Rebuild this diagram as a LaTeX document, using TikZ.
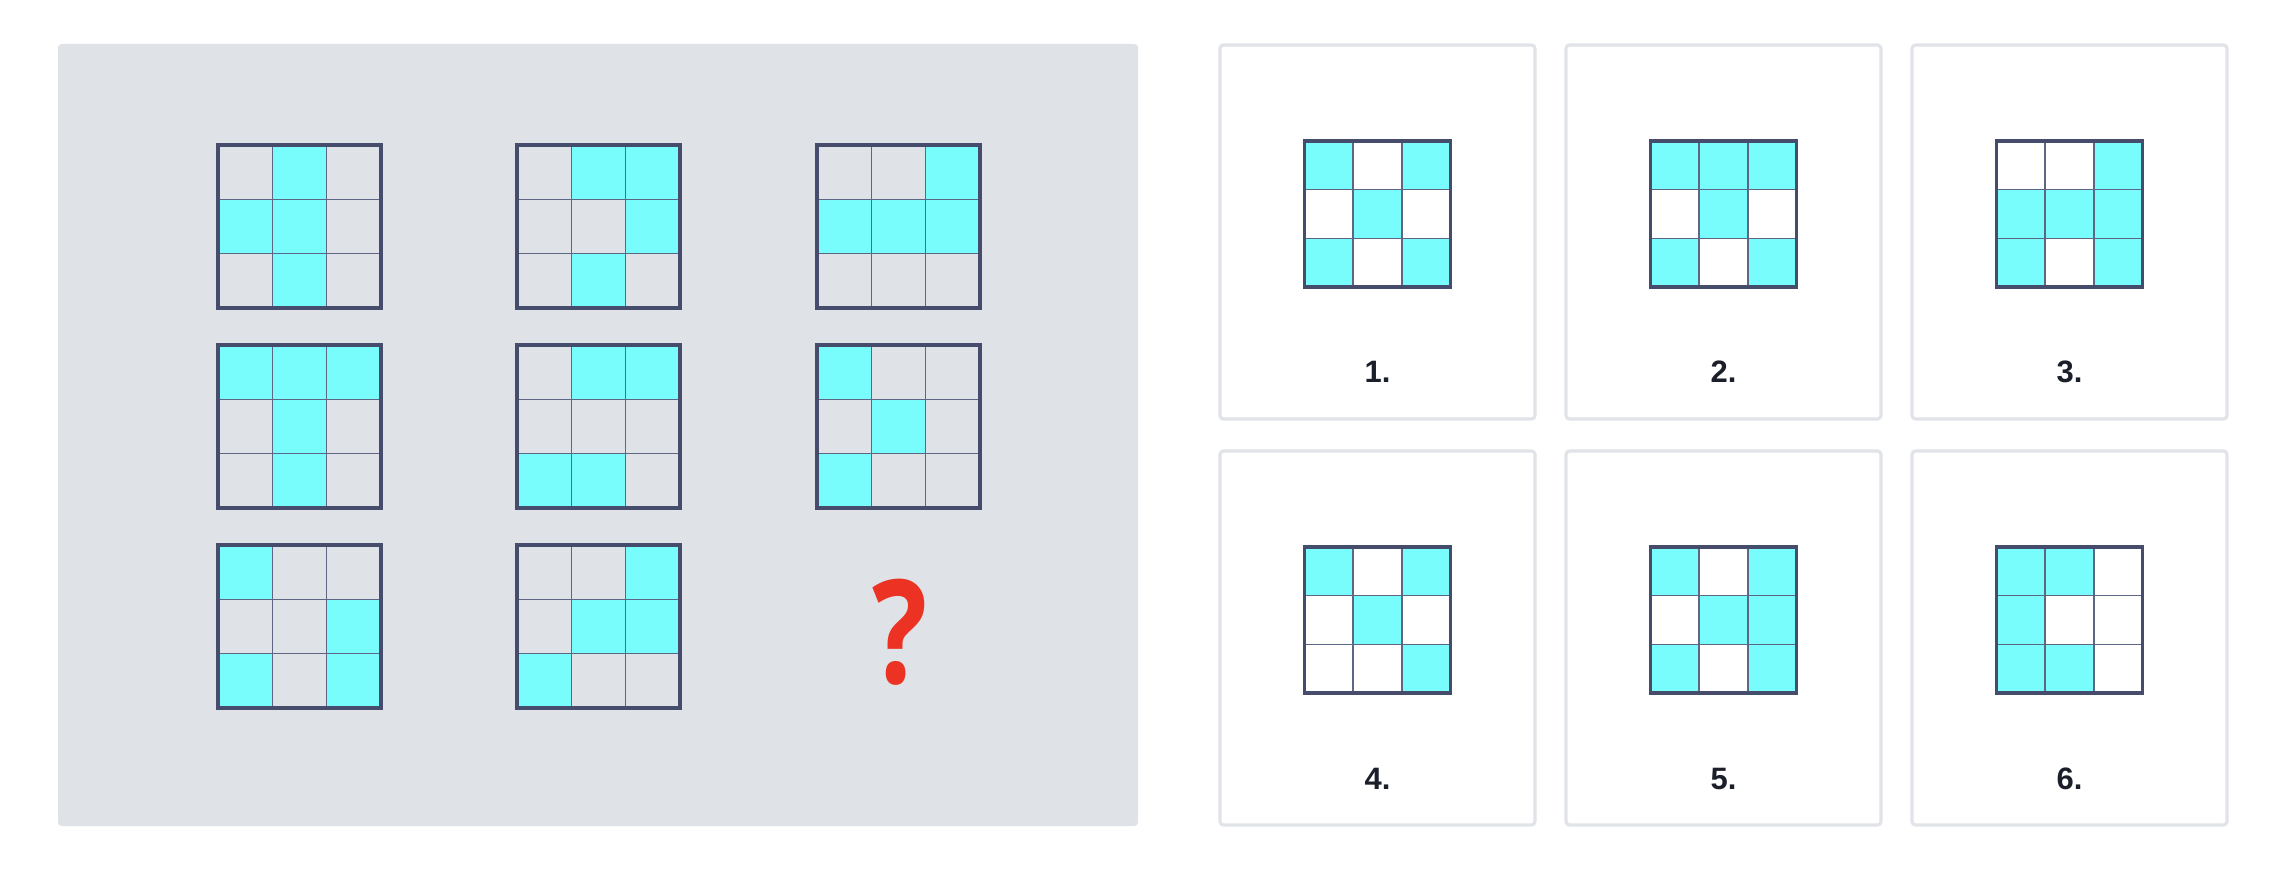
\documentclass[tikz,border=0pt]{standalone}
\usepackage{fontspec}
\setmainfont{Liberation Sans}
\newfontfamily\qfont{Open Sans}
\definecolor{panelgray}{HTML}{DFE2E7}
\definecolor{cardline}{HTML}{E0E3E8}
\definecolor{cellcyan}{HTML}{78FCFC}
\definecolor{gridnavy}{HTML}{464D6C}
\definecolor{gridthin}{HTML}{5F6584}
\definecolor{qred}{HTML}{EC3323}
\definecolor{numblack}{HTML}{1B1F2A}

\begin{document}
\begin{tikzpicture}[x=0.01cm,y=-0.01cm]
\tikzstyle{cell}=[fill=cellcyan]
\tikzstyle{thinline}=[draw=gridthin,line width=0.45pt]
\tikzstyle{frame}=[draw=gridnavy,line width=0.9pt]
\tikzstyle{card}=[draw=cardline,line width=0.9pt,rounded corners=1pt,fill=white]
\tikzstyle{num}=[font=\bfseries\fontsize{8.8}{10}\selectfont,text=numblack,inner sep=0pt,anchor=base]
\useasboundingbox (0,0) rectangle (2296,870);
\fill[white] (0,0) rectangle (2296,870);
% question panel
\fill[panelgray,rounded corners=1pt] (58,44) rectangle (1138,826);
% answer cards
\foreach \n/\cx/\cy in {1/1220/45,2/1566/45,3/1912/45,4/1220/451,5/1566/451,6/1912/451}{
  \draw[card] (\cx,\cy) rectangle +(315,374);
  \node[num] (lab\n) at ({\cx+157.5},{\cy+338}) {\n.};
}
% 3x3 grids: left x, top y, size, filled cells (row/col)
\foreach \gx/\gy/\s/\cells in {
  218/145/163/{1/2,2/1,2/2,3/2},
  517/145/163/{1/2,1/3,2/3,3/2},
  817/145/163/{1/3,2/1,2/2,2/3},
  218/345/163/{1/1,1/2,1/3,2/2,3/2},
  517/345/163/{1/2,1/3,3/1,3/2},
  817/345/163/{1/1,2/2,3/1},
  218/545/163/{1/1,2/3,3/1,3/3},
  517/545/163/{1/3,2/2,2/3,3/1},
  1304.5/141/146/{1/1,1/3,2/2,3/1,3/3},
  1650.5/141/146/{1/1,1/2,1/3,2/2,3/1,3/3},
  1996.5/141/146/{1/3,2/1,2/2,2/3,3/1,3/3},
  1304.5/547/146/{1/1,1/3,2/2,3/3},
  1650.5/547/146/{1/1,1/3,2/2,2/3,3/1,3/3},
  1996.5/547/146/{1/1,1/2,2/1,3/1,3/2}}{
  \foreach \r/\c in \cells
    \fill[cell] ({\gx+(\c-1)*\s/3},{\gy+(\r-1)*\s/3}) rectangle +({\s/3},{\s/3});
  \foreach \k in {1,2}{
    \draw[thinline] ({\gx+\k*\s/3},\gy) -- +(0,\s);
    \draw[thinline] (\gx,{\gy+\k*\s/3}) -- +(\s,0);
  }
  \draw[frame] (\gx,\gy) rectangle +(\s,\s);
}
% missing piece
\node[font=\qfont\bfseries\fontsize{41}{41}\selectfont,text=qred,inner sep=0pt,anchor=base,xscale=0.8] (qmark) at (900,683) {?};
\end{tikzpicture}
\end{document}
